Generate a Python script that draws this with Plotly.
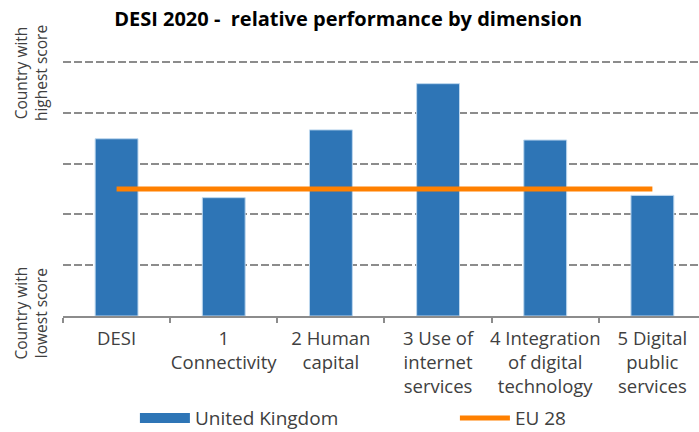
import plotly.graph_objects as go

categories = ["DESI", "1<br>Connectivity", "2 Human<br>capital", "3 Use of<br>internet<br>services",
              "4 Integration<br>of digital<br>technology", "5 Digital<br>public<br>services"]
uk_values = [0.698, 0.466, 0.733, 0.915, 0.693, 0.475]
eu_values = [0.50, 0.50, 0.50, 0.50, 0.50, 0.50]
series_names = ["United Kingdom", "EU 28"]
title_text = "<b>DESI 2020 -  relative performance by dimension</b>"
y_top_label = "Country with<br>highest score"
y_bottom_label = "Country with<br>lowest score"

BLUE = "#2E75B6"
ORANGE = "#FF8000"
FONT = "Open Sans"
TXT = "#404040"

fig = go.Figure()
fig.add_trace(go.Bar(x=categories, y=uk_values, name=series_names[0], width=0.4,
                     marker=dict(color=BLUE, line=dict(color="#BDD7EE", width=1)),
                     showlegend=False))
# legend entry for the bars (wide rectangle look)
fig.add_trace(go.Scatter(x=[None], y=[None], mode="lines", name=series_names[0],
                         line=dict(color=BLUE, width=11)))
fig.add_trace(go.Scatter(x=categories, y=eu_values, mode="lines", name=series_names[1],
                         line=dict(color=ORANGE, width=5)))

fig.update_layout(
    width=699, height=432,
    margin=dict(l=63, r=0, t=57, b=116, autoexpand=False),
    paper_bgcolor="white", plot_bgcolor="white",
    font=dict(family=FONT, color=TXT),
    title=dict(text=title_text, x=0.498, xanchor="center", xref="container",
               y=0.957, yanchor="middle", yref="container",
               font=dict(family=FONT, size=20, color="#000000")),
    showlegend=True,
    legend=dict(orientation="h", x=0.193, y=0.032, xanchor="left", yanchor="middle",
                xref="container", yref="container",
                itemwidth=50,
                entrywidth=255, entrywidthmode="pixels",
                font=dict(family=FONT, size=19, color=TXT),
                bgcolor="rgba(0,0,0,0)"),
    bargap=0.6,
)
fig.update_xaxes(range=[-0.5, 5.435], showline=True, linecolor="#8C8C8C", linewidth=1.5,
                 ticks="outside", tickson="boundaries", ticklen=5, tickcolor="#8C8C8C", tickwidth=1.5,
                 tickfont=dict(family=FONT, size=18.5, color=TXT), ticklabelstandoff=5,
                 tickangle=0, automargin=False,
                 showgrid=False, fixedrange=True)
fig.update_yaxes(range=[0, 1.02], tickvals=[0.2, 0.4, 0.6, 0.8, 1.0], showticklabels=False,
                 showgrid=True, gridcolor="#8C8C8C", gridwidth=2, griddash="8px,3px",
                 zeroline=False, showline=False, fixedrange=True, automargin=False)

fig.add_annotation(text=y_top_label, xref="paper", yref="y", x=-0.051, y=0.955,
                   xanchor="center", yanchor="middle", textangle=-90, showarrow=False,
                   font=dict(family=FONT, size=15.5, color=TXT))
fig.add_annotation(text=y_bottom_label, xref="paper", yref="y", x=-0.051, y=0.012,
                   xanchor="center", yanchor="middle", textangle=-90, showarrow=False,
                   font=dict(family=FONT, size=15.5, color=TXT))

fig.write_html("out.html", config={"displayModeBar": False},
               post_script="document.body.style.margin='0';")
